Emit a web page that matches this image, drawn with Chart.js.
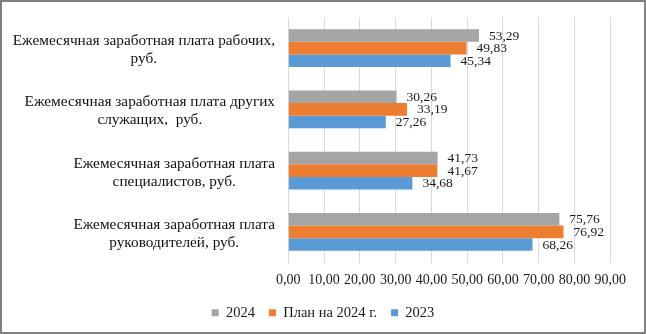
<!DOCTYPE html>
<html>
<head>
<meta charset="utf-8">
<script src="https://cdn.jsdelivr.net/npm/chart.js@4.4.1/dist/chart.umd.min.js"></script>
<style>
  html, body { margin: 0; padding: 0; background: #ffffff; }
  #frame { width: 646px; height: 334px; box-sizing: border-box; border: 2px solid #808080; background: #fff; position: relative; }
  #wrap { width: 642px; height: 330px; position: relative; }
</style>
</head>
<body>
<div id="frame"><div id="wrap"><canvas id="c"></canvas></div></div>
<script>
const categories = [
  ["Ежемесячная заработная плата рабочих,", "руб."],
  ["Ежемесячная заработная плата других", "служащих,  руб."],
  ["Ежемесячная заработная плата", "специалистов, руб."],
  ["Ежемесячная заработная плата", "руководителей, руб."]
];
const seriesNames = ["2024", "План на 2024 г.", "2023"];
const values2024 = [53.29, 30.26, 41.73, 75.76];
const valuesPlan2024 = [49.83, 33.19, 41.67, 76.92];
const values2023 = [45.34, 27.26, 34.68, 68.26];
const xTicks = [0, 10, 20, 30, 40, 50, 60, 70, 80, 90];

const SERIF = '"Liberation Serif", "Times New Roman", serif';
const fmt = v => v.toFixed(2).replace('.', ',');

const valueLabels = {
  id: 'valueLabels',
  afterDatasetsDraw(chart) {
    const ctx = chart.ctx;
    ctx.save();
    ctx.font = '13.5px ' + SERIF;
    ctx.fillStyle = '#1a1a1a';
    ctx.textAlign = 'left';
    ctx.textBaseline = 'middle';
    chart.data.datasets.forEach((ds, di) => {
      const meta = chart.getDatasetMeta(di);
      meta.data.forEach((el, i) => {
        ctx.fillText(fmt(ds.data[i]), el.x + 10, el.y + 0.5);
      });
    });
    ctx.restore();
  }
};

const categoryLabels = {
  id: 'categoryLabels',
  afterDraw(chart) {
    const ctx = chart.ctx;
    const ys = chart.scales.y;
    ctx.save();
    ctx.font = '15.3px ' + SERIF;
    ctx.fillStyle = '#111111';
    ctx.textAlign = 'center';
    ctx.textBaseline = 'middle';
    const right = 273;
    const lh = 18;
    chart.data.labels.forEach((lines, i) => {
      const cy = ys.getPixelForValue(i) + 2;
      const maxW = Math.max(...lines.map(l => ctx.measureText(l).width));
      const cx = right - maxW / 2;
      const y0 = cy - (lines.length - 1) * lh / 2;
      lines.forEach((l, k) => ctx.fillText(l, cx, y0 + k * lh));
    });
    ctx.restore();
  }
};

new Chart(document.getElementById('c'), {
  type: 'bar',
  data: {
    labels: categories,
    datasets: [
      { label: seriesNames[0], data: values2024, backgroundColor: '#a5a5a5', borderWidth: 0 },
      { label: seriesNames[1], data: valuesPlan2024, backgroundColor: '#ed7d31', borderWidth: 0 },
      { label: seriesNames[2], data: values2023, backgroundColor: '#5b9bd5', borderWidth: 0 }
    ]
  },
  options: {
    indexAxis: 'y',
    responsive: true,
    maintainAspectRatio: false,
    animation: false,
    layout: { padding: { top: 15.5, left: 0, right: 0, bottom: 2 } },
    datasets: { bar: { categoryPercentage: 0.62, barPercentage: 1.0 } },
    scales: {
      x: {
        type: 'linear',
        min: xTicks[0],
        max: xTicks[xTicks.length - 1],
        afterBuildTicks: s => { s.ticks = xTicks.map(v => ({ value: v })); },
        grid: { color: '#d9d9d9', lineWidth: 1, drawTicks: false },
        border: { display: false },
        ticks: {
          autoSkip: false, maxRotation: 0, padding: 9,
          font: { family: SERIF, size: 14 }, color: '#1a1a1a',
          callback: v => fmt(v)
        },
        afterFit: s => { s.height = 29; }
      },
      y: {
        type: 'category',
        position: 'left',
        grid: { display: false },
        border: { display: false },
        ticks: { display: false },
        afterFit: s => { s.width = 286.3; }
      },
      yR: {
        type: 'category',
        position: 'right',
        axis: 'y',
        grid: { display: false },
        border: { display: false },
        ticks: { display: false },
        afterFit: s => { s.width = 33.7; }
      }
    },
    plugins: {
      legend: {
        position: 'bottom',
        labels: {
          boxWidth: 7, boxHeight: 7, padding: 14,
          font: { family: SERIF, size: 14.5 }, color: '#1a1a1a'
        }
      },
      tooltip: { enabled: false }
    }
  },
  plugins: [valueLabels, categoryLabels]
});
</script>
</body>
</html>
